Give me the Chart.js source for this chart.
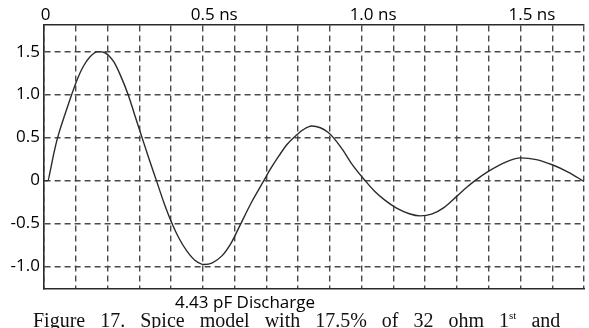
<!DOCTYPE html>
<html>
<head>
<meta charset="utf-8">
<script src="https://cdn.jsdelivr.net/npm/chart.js@4"></script>
<style>
  html, body { margin: 0; padding: 0; background: #fff; }
  #wrap { position: relative; width: 589px; height: 328px; overflow: hidden; }
  #caption {
    position: absolute; left: 0; width: 490px; top: 290px;
    text-align: center; font: 17px "Open Sans", sans-serif; color: #000;
  }
  #figure {
    position: absolute; left: 33px; top: 309px; white-space: nowrap;
    font: 20px "Liberation Serif", serif; color: #111; word-spacing: 10px;
  }
  #figure sup { font-size: 11px; }
</style>
</head>
<body>
<div id="wrap">
  <canvas id="discharge" width="589" height="328"></canvas>
  <div id="caption">4.43 pF Discharge</div>
  <div id="figure">Figure 17. Spice model with 17.5% of 32 ohm 1<sup>st</sup> and</div>
</div>
<script>
// time in ns, voltage
const times = [0, 0.012, 0.02, 0.03, 0.04, 0.05, 0.065, 0.087, 0.105, 0.124, 0.145, 0.17, 0.19, 0.205, 0.22, 0.24, 0.265, 0.285, 0.307, 0.33, 0.354, 0.377, 0.401, 0.425, 0.45, 0.475, 0.505, 0.53, 0.56, 0.59, 0.617, 0.655, 0.692, 0.712, 0.74, 0.765, 0.795, 0.815, 0.843, 0.87, 0.895, 0.911, 0.94, 0.97, 1.011, 1.04, 1.074, 1.11, 1.15, 1.184, 1.22, 1.26, 1.30, 1.33, 1.357, 1.40, 1.45, 1.50, 1.55, 1.60, 1.65, 1.70];
const volts = [0, 0, 0.12, 0.3, 0.46, 0.59, 0.76, 1.0, 1.18, 1.33, 1.44, 1.5, 1.49, 1.45, 1.38, 1.23, 1.0, 0.77, 0.52, 0.26, 0, -0.25, -0.48, -0.67, -0.82, -0.925, -0.975, -0.955, -0.875, -0.72, -0.52, -0.24, 0, 0.13, 0.29, 0.42, 0.53, 0.59, 0.635, 0.615, 0.56, 0.5, 0.36, 0.19, 0, -0.12, -0.23, -0.32, -0.385, -0.41, -0.39, -0.31, -0.18, -0.08, 0, 0.11, 0.21, 0.265, 0.245, 0.185, 0.1, -0.01];

const xTicks = [0, 0.1, 0.2, 0.3, 0.4, 0.5, 0.6, 0.7, 0.8, 0.9, 1.0, 1.1, 1.2, 1.3, 1.4, 1.5, 1.6, 1.7];
const xTickLabels = ["  0", "", "", "", "", "0.5 ns", "", "", "", "", "1.0 ns", "", "", "", "", "1.5 ns", "", ""];
const yTicks = [-1.0, -0.5, 0, 0.5, 1.0, 1.5];
const yTickLabels = ["-1.0", "-0.5", "0", "0.5", "1.0", "1.5"];

const points = times.map((t, i) => ({ x: t, y: volts[i] }));

const font = { family: "'Open Sans', sans-serif", size: 17 };
const gridColor = "#4a4a4a";
const axisColor = "#2a2a2a";

const ctx = document.getElementById("discharge");
new Chart(ctx, {
  type: "line",
  data: {
    datasets: [
      {
        data: points,
        borderColor: "#2b2b2b",
        borderWidth: 1.4,
        pointRadius: 0,
        cubicInterpolationMode: "monotone",
        fill: false,
      },
    ],
  },
  options: {
    responsive: false,
    animation: false,
    devicePixelRatio: 1,
    layout: { padding: { left: 0, right: 5, top: 0, bottom: 39 } },
    plugins: { legend: { display: false }, tooltip: { enabled: false } },
    scales: {
      x: {
        type: "linear",
        position: "top",
        min: 0,
        max: 1.7,
        afterBuildTicks: (scale) => {
          scale.ticks = xTicks.map((v) => ({ value: v }));
        },
        afterFit: (scale) => {
          scale.height = 25;
        },
        ticks: {
          autoSkip: false,
          maxRotation: 0,
          align: "start",
          labelOffset: -12,
          padding: 0,
          color: "#000",
          font: font,
          callback: (v, i) => xTickLabels[i],
        },
        grid: { color: gridColor, lineWidth: 1.4, drawTicks: false },
        border: { color: axisColor, width: 1.6, dash: [6, 4] },
      },
      x2: {
        type: "linear",
        position: "bottom",
        min: 0,
        max: 1.7,
        afterFit: (scale) => {
          scale.height = 0;
        },
        ticks: { display: false },
        grid: { display: false },
        border: { color: axisColor, width: 1.6 },
      },
      y: {
        type: "linear",
        min: -1.26,
        max: 1.81,
        afterBuildTicks: (scale) => {
          scale.ticks = yTicks.map((v) => ({ value: v }));
        },
        afterFit: (scale) => {
          scale.width = 44;
        },
        ticks: {
          padding: 4,
          color: "#000",
          font: font,
          callback: (v, i) => yTickLabels[i],
        },
        grid: { color: gridColor, lineWidth: 1.4, drawTicks: false },
        border: { color: axisColor, width: 1.6, dash: [6, 4] },
      },
    },
  },
});
</script>
</body>
</html>
